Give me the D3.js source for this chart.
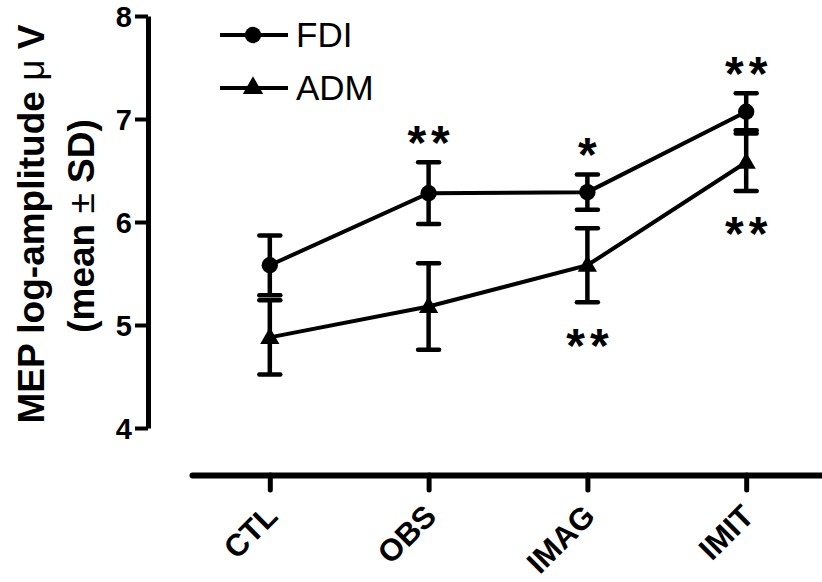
<!DOCTYPE html>
<html>
<head>
<meta charset="utf-8">
<script src="https://cdn.jsdelivr.net/npm/d3@7"></script>
<style>
  html, body { margin: 0; padding: 0; background: #fff; }
  svg { display: block; }
  text { font-family: "Liberation Sans", Arial, Helvetica, sans-serif; fill: #000; }
</style>
</head>
<body>
<svg id="chart" width="822" height="582"></svg>
<script>
// ---- data ----
const categories = ["CTL", "OBS", "IMAG", "IMIT"];
const fdiMean = [5.58, 6.28, 6.29, 7.07];
const fdiSD   = [0.29, 0.30, 0.17, 0.18];
const admMean = [4.88, 5.18, 5.58, 6.58];
const admSD   = [0.36, 0.42, 0.36, 0.28];
const yTicks  = [4, 5, 6, 7, 8];
// significance marks: category, label, series it is attached to (FDI above, ADM below)
const starCats   = ["OBS", "IMAG", "IMIT", "IMAG", "IMIT"];
const starLabels = ["**",  "*",    "**",   "**",   "**"];
const starSeries = ["FDI", "FDI",  "FDI",  "ADM",  "ADM"];
const seriesNames = ["FDI", "ADM"];

const svg = d3.select("#chart");
svg.append("rect").attr("width", 822).attr("height", 582).attr("fill", "#fff");

const x = d3.scalePoint().domain(categories).range([192, 824]).padding(0.49);
const y = d3.scaleLinear().domain([4, 8]).range([428, 16]);

// ---- y axis ----
const yAxis = svg.append("g")
  .attr("transform", "translate(148,0)")
  .call(d3.axisLeft(y).tickValues(yTicks).tickFormat(d3.format("d")).tickSize(13).tickSizeOuter(0).tickPadding(3));
yAxis.select(".domain").attr("stroke", "#000").attr("stroke-width", 5);
yAxis.selectAll(".tick line").attr("stroke", "#000").attr("stroke-width", 4);
yAxis.selectAll(".tick text").attr("font-size", 29).attr("font-weight", "bold")
  .attr("font-family", "Liberation Sans, Arial, sans-serif").attr("fill", "#000")
  .attr("dy", "0.36em");

// ---- x axis ----
const xAxis = svg.append("g")
  .attr("transform", "translate(0,475)")
  .call(d3.axisBottom(x).tickSize(15).tickSizeOuter(0));
xAxis.select(".domain").attr("stroke", "#000").attr("stroke-width", 6).attr("stroke-linecap", "round");
xAxis.selectAll(".tick line").attr("stroke", "#000").attr("stroke-width", 5).attr("stroke-linecap", "round");
xAxis.selectAll(".tick text")
  .attr("font-size", 31).attr("font-weight", "bold")
  .attr("font-family", "Liberation Sans, Arial, sans-serif").attr("fill", "#000")
  .attr("text-anchor", "end")
  .attr("y", 0).attr("dy", 0)
  .attr("transform", "translate(9,43) rotate(-45)");

// ---- y label ----
const yl = svg.append("text")
  .attr("transform", "translate(44,224) rotate(-90)")
  .attr("text-anchor", "middle")
  .attr("font-size", 37).attr("font-weight", "bold");
yl.append("tspan").text("MEP log-amplitude ");
yl.append("tspan").attr("font-weight", "normal").text("\u03bc");
yl.append("tspan").text(" V");
const yl2 = svg.append("text")
  .attr("transform", "translate(94,226) rotate(-90)")
  .attr("text-anchor", "middle")
  .attr("font-size", 37).attr("font-weight", "bold");
yl2.append("tspan").text("(mean ");
yl2.append("tspan").attr("font-weight", "normal").text("\u00b1");
yl2.append("tspan").text(" SD)");

// ---- series ----
const series = [
  { name: "FDI", mean: fdiMean, sd: fdiSD, symbol: d3.symbolCircle, size: 210 },
  { name: "ADM", mean: admMean, sd: admSD, symbol: d3.symbolTriangle, size: 160 }
];
const line = d3.line().x(d => x(d.c)).y(d => y(d.m));

series.forEach(s => {
  const pts = categories.map((c, i) => ({ c, m: s.mean[i], sd: s.sd[i] }));
  svg.append("path").datum(pts).attr("d", line)
    .attr("fill", "none").attr("stroke", "#000").attr("stroke-width", 4);
  const eb = svg.append("g");
  pts.forEach(p => {
    const cx = x(p.c);
    eb.append("line").attr("x1", cx).attr("x2", cx)
      .attr("y1", y(p.m + p.sd)).attr("y2", y(p.m - p.sd))
      .attr("stroke", "#000").attr("stroke-width", 4.5);
    [p.m + p.sd, p.m - p.sd].forEach(v => {
      eb.append("line").attr("x1", cx - 10.5).attr("x2", cx + 10.5)
        .attr("y1", y(v)).attr("y2", y(v))
        .attr("stroke", "#000").attr("stroke-width", 4.5).attr("stroke-linecap", "round");
    });
  });
});
series.forEach(s => {
  const pts = categories.map((c, i) => ({ c, m: s.mean[i] }));
  svg.append("g").selectAll("path").data(pts).join("path")
    .attr("d", d3.symbol().type(s.symbol).size(s.size))
    .attr("transform", d => `translate(${x(d.c)},${y(d.m) + (s.symbol === d3.symbolTriangle ? 1 : 0)})`)
    .attr("fill", "#000");
});

// ---- significance stars ----
const starFs = 48;
starCats.forEach((c, i) => {
  const s = series.find(d => d.name === starSeries[i]);
  const k = categories.indexOf(c);
  const cy = s.name === "FDI" ? y(s.mean[k] + s.sd[k]) - 31 : y(s.mean[k] - s.sd[k]) + 32;
  svg.append("text")
    .attr("x", x(c) + (starLabels[i].length > 1 ? 2.5 : 0))
    .attr("y", cy + 0.57 * starFs)
    .attr("text-anchor", "middle")
    .attr("font-size", starFs).attr("font-weight", "bold")
    .attr("letter-spacing", starLabels[i].length > 1 ? 5 : 0)
    .text(starLabels[i]);
});

// ---- legend ----
const legend = svg.append("g");
series.forEach((s, i) => {
  const ly = i === 0 ? 35 : 88;
  legend.append("line").attr("x1", 220).attr("x2", 288).attr("y1", ly).attr("y2", ly)
    .attr("stroke", "#000").attr("stroke-width", 4);
  legend.append("path").attr("d", d3.symbol().type(s.symbol).size(i === 0 ? 210 : 180))
    .attr("transform", `translate(253,${ly})`).attr("fill", "#000");
  legend.append("text").attr("x", 296).attr("y", ly + 12)
    .attr("font-size", 35).text(seriesNames[i]);
});
</script>
</body>
</html>
